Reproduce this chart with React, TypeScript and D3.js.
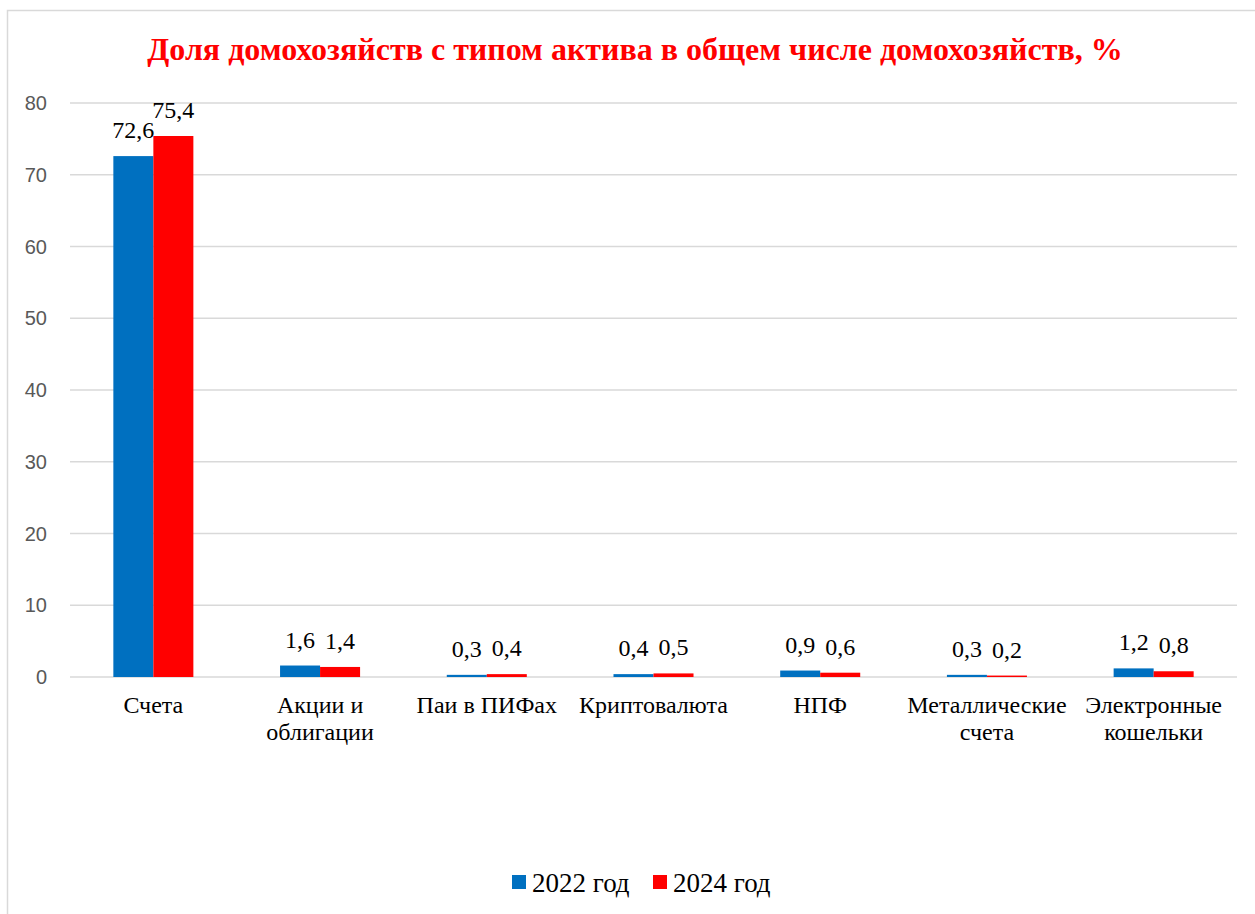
import * as d3 from "d3";

const categories = [
  ["Счета"],
  ["Акции и", "облигации"],
  ["Паи в ПИФах"],
  ["Криптовалюта"],
  ["НПФ"],
  ["Металлические", "счета"],
  ["Электронные", "кошельки"],
];
const values2022 = [72.6, 1.6, 0.3, 0.4, 0.9, 0.3, 1.2];
const values2024 = [75.4, 1.4, 0.4, 0.5, 0.6, 0.2, 0.8];
const seriesNames = ["2022 год", "2024 год"];
const colors = ["#0070C0", "#FF0000"];
const yTicks = [0, 10, 20, 30, 40, 50, 60, 70, 80];
const title = "Доля домохозяйств с типом актива в общем числе домохозяйств, %";

const width = 1255;
const height = 914;
const left = 70;
const right = 1237;
const top = 103;
const bottom = 677;

const serif = "'Liberation Serif', 'Times New Roman', serif";
const fmt = (v: number) => String(v).replace(".", ",");

export default function App() {
  const x = d3
    .scaleBand<number>()
    .domain(d3.range(categories.length))
    .range([left, right])
    .paddingInner(0.52)
    .paddingOuter(0.26);
  const xs = d3.scaleBand<number>().domain([0, 1]).range([0, x.bandwidth()]);
  const y = d3.scaleLinear().domain([0, 80]).range([bottom, top]);
  const series = [values2022, values2024];

  return (
    <svg
      width={width}
      height={height}
      style={{ position: "absolute", left: 0, top: 0, background: "#fff" }}
    >
      <rect x={7.5} y={10.5} width={width} height={height} fill="#fff" stroke="#d9d9d9" strokeWidth={1.5} />
      <text
        x={635}
        y={60}
        textAnchor="middle"
        fill="#FF0000"
        fontFamily={serif}
        fontWeight="bold"
        fontSize={32}
      >
        {title}
      </text>
      <g>
        {yTicks.map((t) => (
          <g key={t}>
            <line x1={left} x2={right} y1={y(t)} y2={y(t)} stroke="#d9d9d9" strokeWidth={1.5} />
            <text
              x={47}
              y={y(t)}
              dy="0.35em"
              textAnchor="end"
              fill="#595959"
              fontFamily="'Liberation Sans', Arial, sans-serif"
              fontSize={20}
            >
              {t}
            </text>
          </g>
        ))}
      </g>
      {series.map((vals, s) => (
        <g key={s}>
          {vals.map((v, i) => {
            const bx = (x(i) ?? 0) + (xs(s) ?? 0);
            return (
              <g key={i}>
                <rect x={bx} y={y(v)} width={xs.bandwidth()} height={y(0) - y(v)} fill={colors[s]} />
                <text
                  x={bx + xs.bandwidth() / 2}
                  y={y(v) - 18}
                  textAnchor="middle"
                  fill="#000"
                  fontFamily={serif}
                  fontSize={24}
                >
                  {fmt(v)}
                </text>
              </g>
            );
          })}
        </g>
      ))}
      {categories.map((lines, i) => (
        <text
          key={i}
          x={(x(i) ?? 0) + x.bandwidth() / 2}
          y={713}
          textAnchor="middle"
          fill="#000"
          fontFamily={serif}
          fontSize={24}
        >
          {lines.map((l, k) => (
            <tspan key={k} x={(x(i) ?? 0) + x.bandwidth() / 2} dy={k === 0 ? 0 : 27}>
              {l}
            </tspan>
          ))}
        </text>
      ))}
      <g fontFamily={serif} fontSize={27} fill="#000">
        {seriesNames.map((n, s) => (
          <g key={n} transform={`translate(${512 + s * 141},875)`}>
            <rect width={14} height={14} fill={colors[s]} />
            <text x={20} y={17}>
              {n}
            </text>
          </g>
        ))}
      </g>
    </svg>
  );
}
